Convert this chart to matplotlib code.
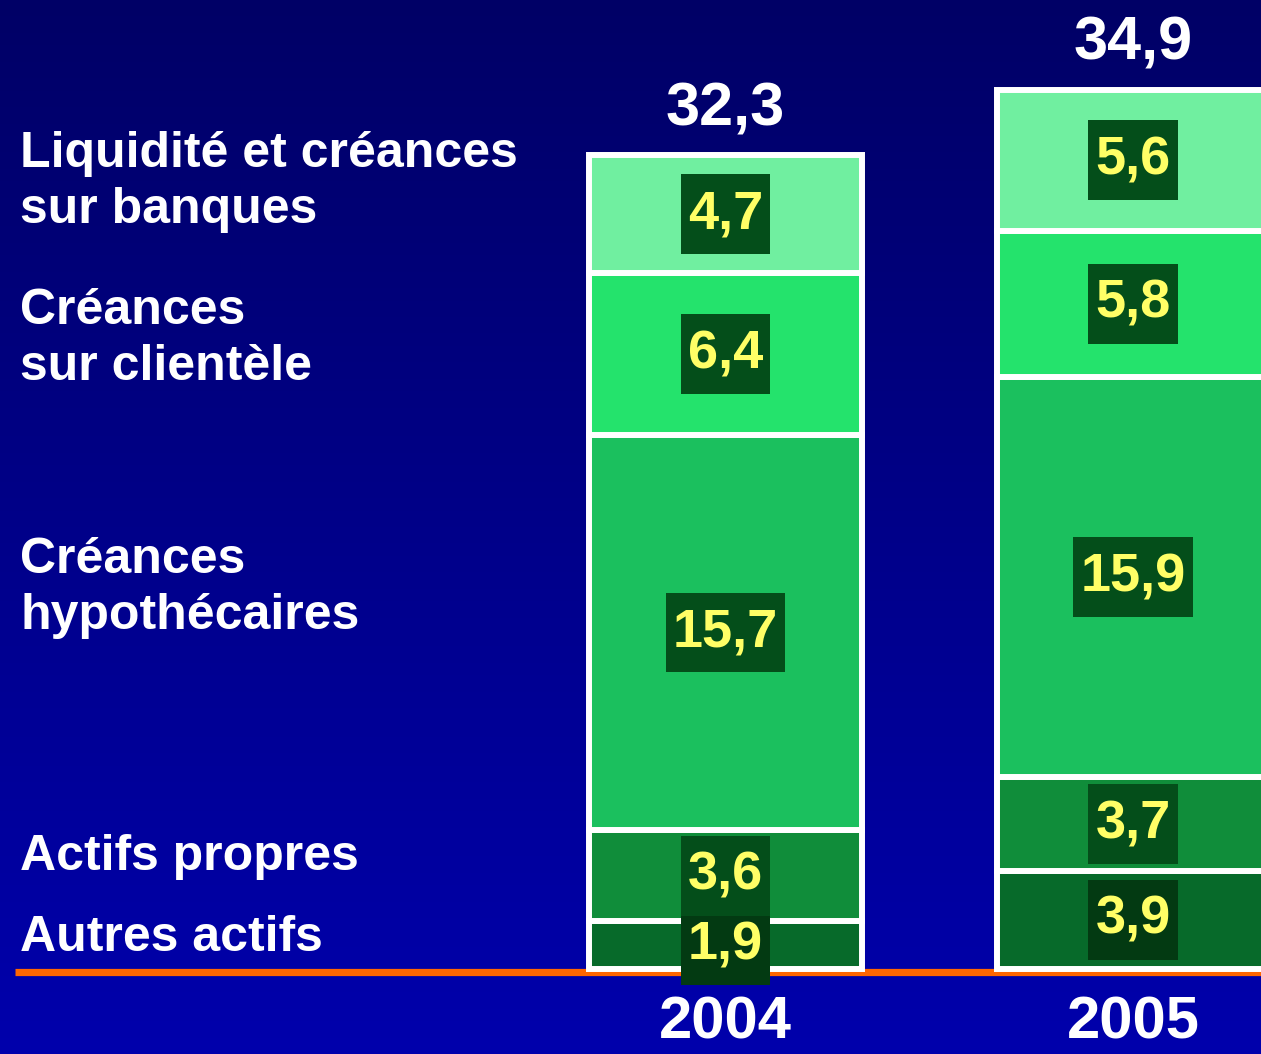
import numpy as np
import matplotlib
matplotlib.use("Agg")
import matplotlib.pyplot as plt
from matplotlib.colors import LinearSegmentedColormap

# ---- data ----
years = ["2004", "2005"]
categories = ["Autres actifs", "Actifs propres", "Créances\nhypothécaires",
              "Créances\nsur clientèle", "Liquidité et créances\nsur banques"]
values_2004 = [1.9, 3.6, 15.7, 6.4, 4.7]
values_2005 = [3.9, 3.7, 15.9, 5.8, 5.6]
totals = [32.3, 34.9]

seg_colors = ["#076A2A", "#108D3A", "#1BC05E", "#24E36C", "#70EFA0"]
box_colors = ["#033A12", "#044E1A", "#044E1A", "#044E1A", "#044E1A"]

plt.rcParams['font.family'] = ['Liberation Sans', 'DejaVu Sans']

W, H = 1261, 1054
fig = plt.figure(figsize=(W / 100, H / 100), dpi=100)
ax = fig.add_axes([0, 0, 1, 1])

# layout: pixel mapping
base_px = 969.0
scale = 25.2          # px per unit
c0_px, dx_px = 725.5, 407.5
xlim = (-c0_px / dx_px, (W - c0_px) / dx_px)
ylim = ((base_px - H) / scale, base_px / scale)

# background gradient (dark at top, brighter at bottom)
grad = np.linspace(0, 1, 256).reshape(-1, 1)
cmap = LinearSegmentedColormap.from_list("bg", ["#000066", "#0000AC"])
ax.imshow(grad, extent=[xlim[0], xlim[1], ylim[0], ylim[1]], aspect='auto',
          cmap=cmap, zorder=0, origin='upper')

# orange baseline
ax.axhline(-0.12, xmin=15 / W, xmax=1, color="#FF6600", lw=5.2, zorder=1,
           solid_capstyle='butt')

x = np.arange(len(years))
width = 273 / dx_px
data = np.array([values_2004, values_2005])  # years x cats
bottoms = np.zeros(len(years))
for j, cat in enumerate(categories):
    vals = data[:, j]
    ax.bar(x, vals, width=width, bottom=bottoms, color=seg_colors[j],
           edgecolor="white", linewidth=4.3, zorder=2)
    for i in range(len(years)):
        yc = bottoms[i] + vals[i] / 2
        ax.text(x[i], yc, f"{vals[i]:.1f}".replace(".", ","),
                ha='center', va='center', color="#FFFF66", fontsize=39,
                fontweight='bold', zorder=4,
                bbox=dict(boxstyle='square,pad=0.13', fc=box_colors[j], ec='none',
                          mutation_aspect=2.1))
    bottoms += vals

# totals above
for i, t in enumerate(totals):
    ax.annotate(f"{t:.1f}".replace(".", ","), (x[i], bottoms[i]),
                xytext=(0, 12), textcoords='offset points', ha='center',
                va='bottom', color='white', fontsize=44, fontweight='bold', zorder=5)

# year labels
for i, yr in enumerate(years):
    ax.annotate(yr, (x[i], 0), xytext=(0, -50), textcoords='offset points',
                ha='center', va='baseline', color='white', fontsize=43,
                fontweight='bold', zorder=5)

# left category labels
label_y_px = [938, 857, 588, 339, 182]
for cat, ypx in zip(categories, label_y_px):
    ax.text(20 / W, 1 - ypx / H, cat, transform=ax.transAxes, ha='left',
            va='center', color='white', fontsize=36, fontweight='bold',
            linespacing=1.27, zorder=5)

ax.set_xlim(*xlim)
ax.set_ylim(*ylim)
ax.axis('off')
fig.savefig("out.png", dpi=100)
